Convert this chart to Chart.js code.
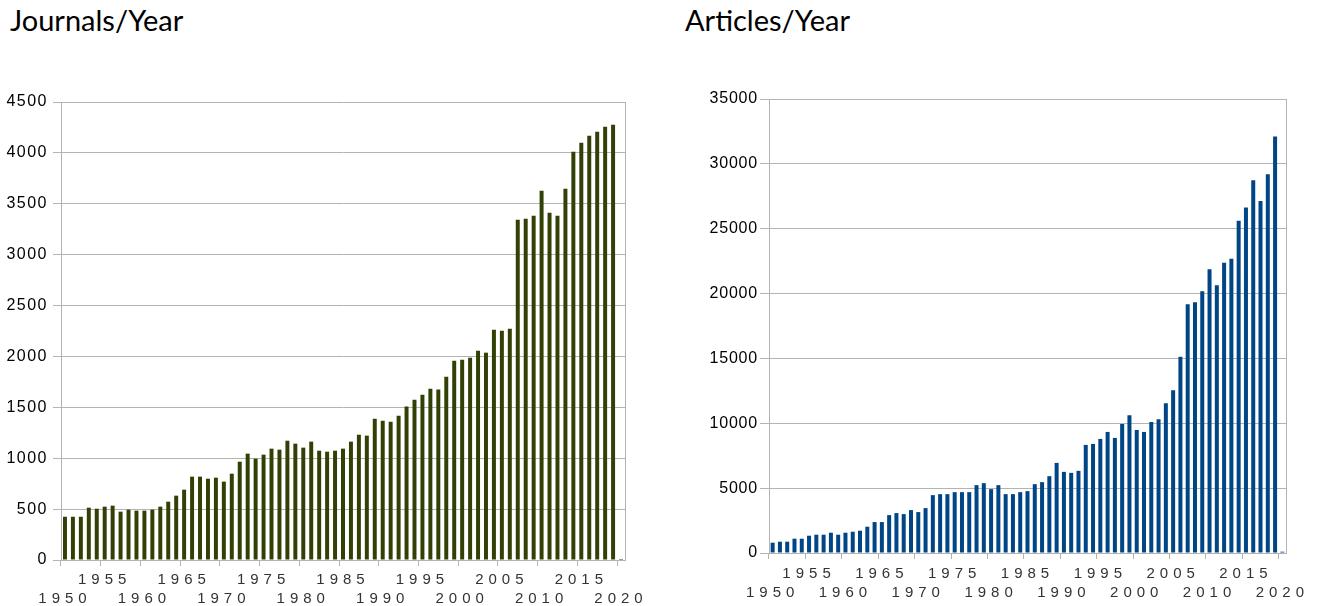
<!DOCTYPE html>
<html>
<head>
<meta charset="utf-8">
<script src="https://cdn.jsdelivr.net/npm/chart.js@4/dist/chart.umd.min.js"></script>
<style>
    body { margin: 0; background: #fff; }
    #page { position: relative; width: 1317px; height: 606px; overflow: hidden; }
    .title { position: absolute; font-family: Lato, "Liberation Sans", sans-serif; font-size: 29px; line-height: 36px; color: #000; }
    canvas { position: absolute; }
</style>
</head>
<body>
<div id="page">
    <div class="title" style="left:10px; top:2px;">Journals/Year</div>
    <div class="title" style="left:685px; top:2px;">Articles/Year</div>
    <canvas id="journals_chart" width="650" height="526" style="left:0; top:80px;"></canvas>
    <canvas id="articles_chart" width="667" height="526" style="left:650px; top:80px;"></canvas>
</div>
<script>
const years = [];
for (let y = 1950; y <= 2020; y++) years.push(y);

// 1950 .. 2020
const journals = [
    425, 425, 425, 514, 504, 524, 534, 475, 495, 485,
    485, 495, 524, 573, 632, 691, 819, 819, 799, 809,
    770, 848, 966, 1045, 996, 1035, 1094, 1084, 1172, 1143,
    1104, 1163, 1074, 1064, 1074, 1094, 1163, 1231, 1222, 1389,
    1369, 1359, 1418, 1507, 1575, 1624, 1683, 1674, 1801, 1958,
    1968, 1988, 2057, 2037, 2263, 2253, 2273, 3344, 3354, 3383,
    3629, 3413, 3383, 3648, 4012, 4100, 4169, 4208, 4258, 4277,
    10
];

const articles = [
    795, 872, 872, 1103, 1103, 1333, 1410, 1410, 1564, 1410,
    1564, 1641, 1718, 2026, 2385, 2385, 2923, 3077, 3000, 3308,
    3154, 3461, 4461, 4538, 4538, 4692, 4692, 4692, 5231, 5384,
    4923, 5231, 4538, 4538, 4692, 4769, 5307, 5461, 5923, 6948,
    6256, 6179, 6333, 8333, 8410, 8795, 9333, 8871, 9948, 10615,
    9487, 9333, 10102, 10307, 11538, 12538, 15128, 19179, 19333, 20179,
    21871, 20640, 22384, 22692, 25615, 26640, 28743, 27128, 29205, 32102,
    100
];

const journalTicks = [0, 500, 1000, 1500, 2000, 2500, 3000, 3500, 4000, 4500];
const articleTicks = [0, 5000, 10000, 15000, 20000, 25000, 30000, 35000];

const gridColor = '#b3b3b3';

// LibreOffice draws the tick labels letter-spaced
const spacedTicks = {
    id: 'spacedTicks',
    afterLayout(chart, args, opts) {
        for (const key of ['x', 'y']) {
            const sc = chart.scales[key];
            if (sc._spaced) continue;
            const orig = sc.drawLabels;
            const spacing = opts[key];
            sc.drawLabels = function (area) {
                const c = this.ctx;
                c.save();
                c.letterSpacing = spacing + 'px';
                orig.call(this, area);
                c.restore();
            };
            sc._spaced = true;
        }
    }
};

// right edge of the plot frame
const frameRight = {
    id: 'frameRight',
    beforeDatasetsDraw(chart) {
        const { ctx, chartArea } = chart;
        ctx.save();
        ctx.strokeStyle = gridColor;
        ctx.lineWidth = 1;
        ctx.beginPath();
        ctx.moveTo(Math.round(chartArea.right) + 0.5, chartArea.top);
        ctx.lineTo(Math.round(chartArea.right) + 0.5, chartArea.bottom);
        ctx.stroke();
        ctx.restore();
    }
};

function yearLabel(value) {
    const year = years[value];
    if (year % 10 === 5) return [String(year), ''];
    if (year % 10 === 0) return ['', String(year)];
    return '';
}

function criarGrafico(id, values, ticks, color, opts) {
    const ctx = document.getElementById(id).getContext('2d');
    return new Chart(ctx, {
        type: 'bar',
        data: {
            labels: years,
            datasets: [{
                data: values,
                backgroundColor: color,
                borderWidth: 0,
                categoryPercentage: 1,
                barPercentage: opts.barPct
            }]
        },
        options: {
            responsive: false,
            animation: false,
            layout: { padding: { top: opts.padTop, right: opts.padRight, left: 0, bottom: 0 } },
            plugins: {
                legend: { display: false },
                tooltip: { enabled: false },
                spacedTicks: { x: 5, y: opts.ySpacing }
            },
            scales: {
                x: {
                    offset: true,
                    grid: {
                        offset: true,
                        drawOnChartArea: false,
                        tickLength: 6,
                        color: c => (c.index !== undefined && c.index % 5 === 0) ? gridColor : 'rgba(0,0,0,0)'
                    },
                    border: { color: gridColor },
                    ticks: {
                        autoSkip: false,
                        maxRotation: 0,
                        padding: opts.xPad,
                        color: '#333',
                        font: { family: 'Liberation Sans', size: 15, lineHeight: '19px' },
                        callback: yearLabel
                    },
                    afterFit: s => { s.height = opts.xHeight; }
                },
                y: {
                    min: 0,
                    max: ticks[ticks.length - 1],
                    afterBuildTicks: s => { s.ticks = ticks.map(v => ({ value: v })); },
                    grid: { color: gridColor, tickLength: opts.yTick },
                    border: { color: gridColor },
                    ticks: {
                        padding: opts.yPad,
                        color: '#000',
                        font: { family: 'Liberation Sans', size: 16 },
                        callback: v => String(v)
                    },
                    afterFit: s => { s.width = opts.yWidth; }
                }
            }
        },
        plugins: [spacedTicks, frameRight]
    });
}

window.onload = () => {
    criarGrafico('journals_chart', journals, journalTicks, '#314004',
        { barPct: 0.5, padTop: 22, padRight: 25, xHeight: 46, xPad: 4, yWidth: 61, yTick: 8, yPad: 5, ySpacing: 1.5 });
    criarGrafico('articles_chart', articles, articleTicks, '#004586',
        { barPct: 0.55, padTop: 19, padRight: 31, xHeight: 53, xPad: 5, yWidth: 119, yTick: 9, yPad: 2, ySpacing: 0.8 });
};
</script>
</body>
</html>
